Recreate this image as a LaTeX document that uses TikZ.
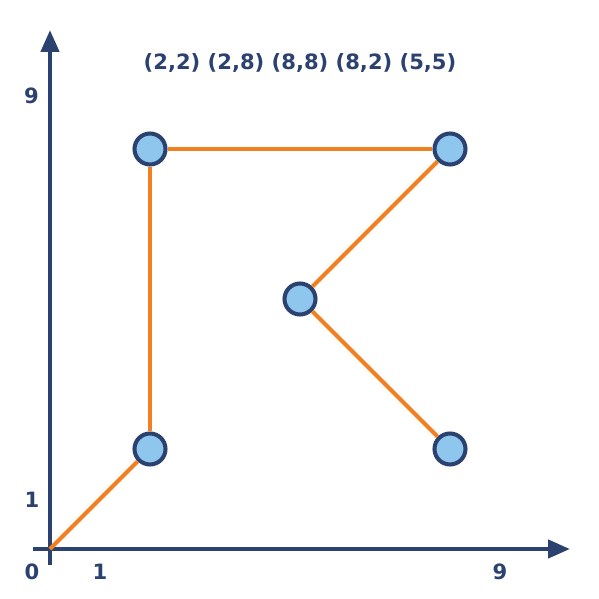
\documentclass[tikz,border=0pt]{standalone}
\usepackage{fontspec}
\setmainfont{DejaVu Sans}
\usepackage{tikz}
\usetikzlibrary{arrows.meta,positioning}
\definecolor{navy}{RGB}{43,66,112}
\definecolor{tangerine}{RGB}{240,128,32}
\definecolor{skyblue}{RGB}{142,198,238}

\begin{document}
\begin{tikzpicture}[
  axis/.style={line width=2.5pt, navy, -{Triangle[length=0.44cm, width=0.36cm]}},
  route/.style={line width=2.4pt, tangerine},
  pt/.style={circle, draw=navy, fill=skyblue, line width=2.3pt, minimum size=0.62cm, inner sep=0pt},
  lbl/.style={text=navy, font=\fontsize{12}{14}\selectfont\bfseries},
  every node/.style={align=center}
]
\useasboundingbox (-1,-1) rectangle (10.98,10.98);

% axes
\coordinate (xs) at (-0.34,0);
\coordinate (xe) at (10.4,0);
\coordinate (ys) at (0,-0.32);
\coordinate (ye) at (0,10.38);
\coordinate (o) at (0,0);
\draw[axis](xs)--(xe);
\draw[axis](ys)--(ye);

% points
\node[pt](p1) at (2,2){};
\node[pt](p2) at (2,8){};
\node[pt](p3) at (8,8){};
\node[pt](p4) at (5,5){};
\node[pt](p5) at (8,2){};

\draw[route](o)--(p1);
\draw[route](p1)--(p2);
\draw[route](p2)--(p3);
\draw[route](p3)--(p4);
\draw[route](p4)--(p5);

% labels
\node[lbl](title) at (5,9.72){(2,2) (2,8) (8,8) (8,2) (5,5)};
\node[lbl](y9) at (-0.37,9.07){9};
\node[lbl](y1) at (-0.36,0.98){1};
\node[lbl](zero) at (-0.36,-0.45){0};
\node[lbl](x1) at (1,-0.45){1};
\node[lbl](x9) at (9,-0.45){9};
\end{tikzpicture}
\end{document}
